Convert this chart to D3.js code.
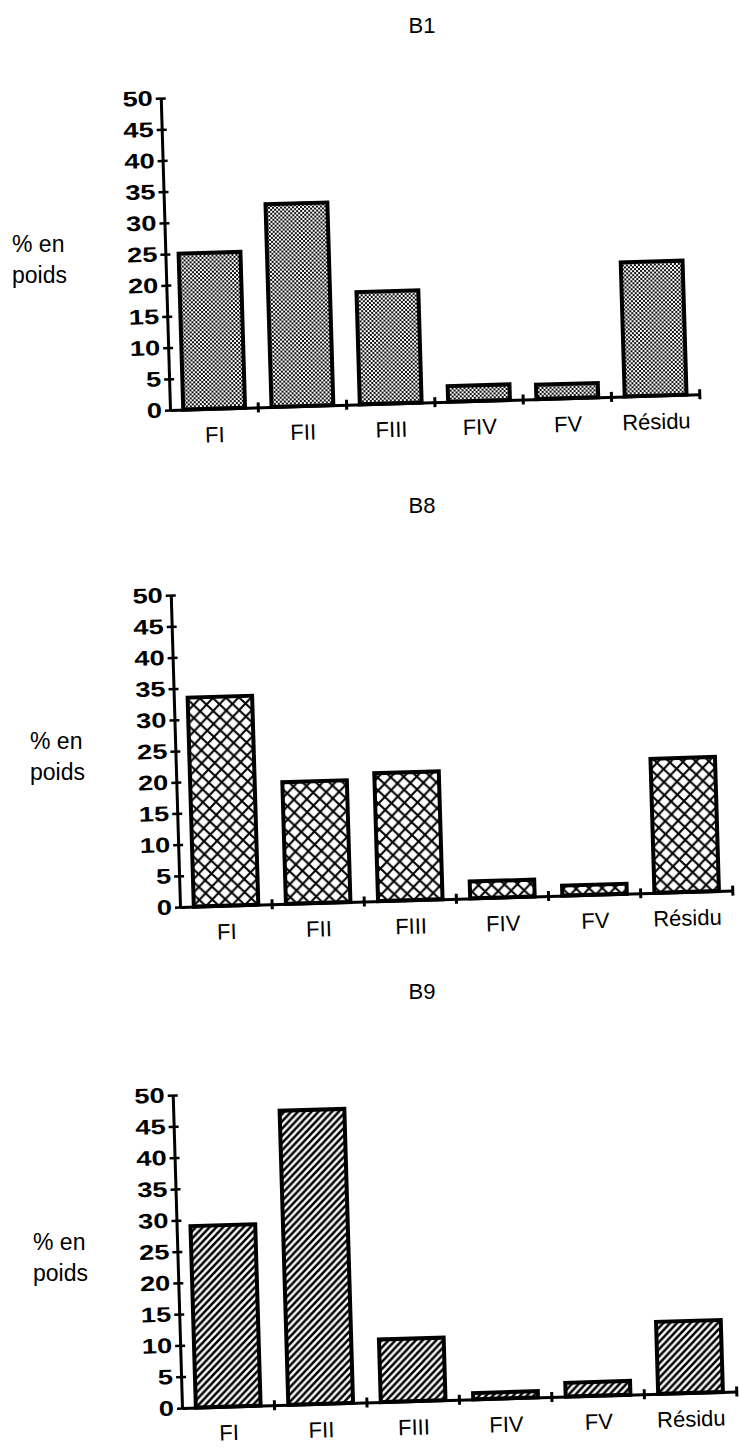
<!DOCTYPE html>
<html>
<head>
<meta charset="utf-8">
<script src="https://cdn.jsdelivr.net/npm/d3@7"></script>
<style>
  body { margin: 0; background: #fff; }
  text { font-family: "Liberation Sans", Arial, Helvetica, sans-serif; fill: #000; }
</style>
</head>
<body>
<svg id="chart" width="739" height="1450"></svg>
<script>
// fractions, % by weight
const categories = ["FI", "FII", "FIII", "FIV", "FV", "Résidu"];
const sampleNames = ["B1", "B8", "B9"];
const valuesB1 = [25, 32.5, 18, 2.5, 2.3, 21.5];
const valuesB8 = [33.5, 19.5, 20.5, 2.7, 1.6, 21.5];
const valuesB9 = [29, 47, 10, 1, 2.2, 11.5];
const yTicks = [0, 5, 10, 15, 20, 25, 30, 35, 40, 45, 50];
const yLabel = ["% en", "poids"];

// where each panel sits on the page (scan is slightly tilted)
const panels = [
  {name: sampleNames[0], values: valuesB1, fill: "url(#dots)",  ox: 170, oy: 410,  w: 530, h: 312, titleX: 422, titleY: 33,  labelX: 12},
  {name: sampleNames[1], values: valuesB8, fill: "url(#cross)", ox: 180, oy: 907,  w: 553, h: 312, titleX: 422, titleY: 513, labelX: 30},
  {name: sampleNames[2], values: valuesB9, fill: "url(#hatch)", ox: 182, oy: 1408, w: 555, h: 313, titleX: 422, titleY: 999, labelX: 33}
];
const tilt = -1.7;

const svg = d3.select("#chart");
const defs = svg.append("defs");

// grey stipple
const dots = defs.append("pattern").attr("id", "dots")
    .attr("patternUnits", "userSpaceOnUse").attr("width", 4).attr("height", 4);
dots.append("rect").attr("width", 4).attr("height", 4).attr("fill", "#fff");
dots.append("rect").attr("width", 2).attr("height", 2).attr("fill", "#111");
dots.append("rect").attr("x", 2).attr("y", 2).attr("width", 2).attr("height", 2).attr("fill", "#111");

// cross hatch
const cross = defs.append("pattern").attr("id", "cross")
    .attr("patternUnits", "userSpaceOnUse").attr("width", 13).attr("height", 13);
cross.append("rect").attr("width", 13).attr("height", 13).attr("fill", "#fff");
cross.append("path").attr("d", "M0,0L13,13M13,0L0,13")
    .attr("stroke", "#000").attr("stroke-width", 2);

// diagonal hatch
const hatch = defs.append("pattern").attr("id", "hatch")
    .attr("patternUnits", "userSpaceOnUse").attr("width", 7).attr("height", 7);
hatch.append("rect").attr("width", 7).attr("height", 7).attr("fill", "#fff");
hatch.append("path").attr("d", "M-1,8L8,-1M-2,2L2,-2M5,9L9,5")
    .attr("stroke", "#000").attr("stroke-width", 2.6);

panels.forEach(p => {
    svg.append("text")
        .attr("x", p.titleX).attr("y", p.titleY)
        .attr("text-anchor", "middle")
        .attr("font-size", 22)
        .text(p.name);

    svg.append("g").selectAll("text")
        .data(yLabel)
        .enter().append("text")
            .attr("x", p.labelX)
            .attr("y", (d, i) => p.oy - 158 + i * 31)
            .attr("font-size", 23)
            .text(d => d);

    const g = svg.append("g")
        .attr("transform", `translate(${p.ox},${p.oy}) rotate(${tilt})`);

    const x = d3.scaleBand()
        .domain(categories)
        .range([0, p.w])
        .paddingInner(0.3)
        .paddingOuter(0.15);

    const y = d3.scaleLinear()
        .domain([0, 50])
        .range([0, -p.h]);

    // bars
    g.append("g").selectAll("rect")
        .data(p.values)
        .enter().append("rect")
            .attr("x", (d, i) => x(categories[i]))
            .attr("y", d => y(d))
            .attr("width", x.bandwidth())
            .attr("height", d => y(0) - y(d))
            .attr("fill", p.fill)
            .attr("stroke", "#000")
            .attr("stroke-width", 4);

    // y axis
    const yAxis = g.append("g")
        .call(d3.axisLeft(y).tickValues(yTicks).tickSizeInner(5).tickSizeOuter(0));
    yAxis.select(".domain").attr("stroke-width", 3);
    yAxis.selectAll(".tick line").attr("x1", 5).attr("stroke-width", 2.5);
    yAxis.selectAll(".tick text")
        .attr("x", -8 / 1.3)
        .attr("transform", "scale(1.3,1)")
        .attr("font-size", 21)
        .attr("font-weight", "bold")
        .attr("font-family", "\"Liberation Sans\", Arial, sans-serif")
        .attr("fill", "#000");

    // x axis, labels under bars
    const xAxis = g.append("g")
        .call(d3.axisBottom(x).tickSize(0).tickPadding(18));
    xAxis.select(".domain").attr("stroke-width", 3);
    xAxis.selectAll(".tick text")
        .attr("font-size", 22)
        .attr("font-family", "\"Liberation Sans\", Arial, sans-serif")
        .attr("fill", "#000");

    // separator ticks between categories
    g.append("g").selectAll("line")
        .data(categories)
        .enter().append("line")
            .attr("x1", d => x(d) + x.bandwidth() + x.step() * 0.15)
            .attr("x2", d => x(d) + x.bandwidth() + x.step() * 0.15)
            .attr("y1", -5).attr("y2", 5)
            .attr("stroke", "#000")
            .attr("stroke-width", 3);
});
</script>
</body>
</html>
